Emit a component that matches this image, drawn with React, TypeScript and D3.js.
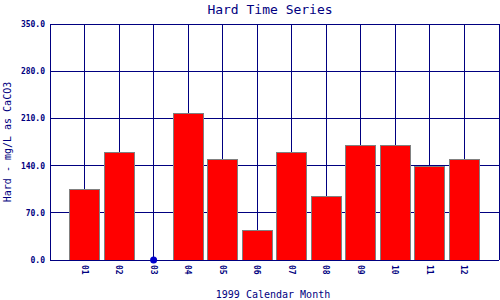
import React from "react";
import * as d3 from "d3";

const months = ["01", "02", "03", "04", "05", "06", "07", "08", "09", "10", "11", "12"];
const hardValues: (number | null)[] = [105, 160, null, 218, 149, 44, 160, 94, 170, 170, 139, 149];
const yTicks = [0, 70, 140, 210, 280, 350];

const W = 500;
const H = 300;
const left = 50;
const right = 499;
const top = 24;
const bottom = 260;
const navy = "#000080";
const mono = "'DejaVu Sans Mono', 'Liberation Mono', monospace";

export default function App() {
  const x = d3.scaleLinear().domain([0, months.length + 1]).range([left, right]);
  const y = d3.scaleLinear().domain([0, 350]).range([bottom, top]);
  const barW = 30;

  return (
    <svg
      width={W}
      height={H}
      style={{ position: "absolute", left: 0, top: 0, background: "#fff" }}
      shapeRendering="crispEdges"
    >
      <rect x={0} y={0} width={W} height={H} fill="#fff" />
      {/* horizontal gridlines */}
      {yTicks.map((t) => (
        <line key={"h" + t} x1={left} x2={right} y1={y(t)} y2={y(t)} stroke={navy} strokeWidth={1} />
      ))}
      {/* vertical gridlines at category centers */}
      {months.map((m, i) => (
        <line key={"v" + m} x1={x(i + 1)} x2={x(i + 1)} y1={top} y2={bottom} stroke={navy} strokeWidth={1} />
      ))}
      {/* frame */}
      <line x1={left} x2={left} y1={top} y2={bottom} stroke={navy} strokeWidth={1} />
      <line x1={right} x2={right} y1={top} y2={bottom} stroke={navy} strokeWidth={1} />
      {/* bars */}
      {hardValues.map((v, i) =>
        v == null ? null : (
          <rect
            key={"b" + i}
            x={x(i + 1) - barW / 2}
            y={y(v)}
            width={barW}
            height={y(0) - y(v)}
            fill="#ff0000"
            stroke="#808080"
            strokeWidth={1}
          />
        )
      )}
      <line x1={left} x2={right} y1={bottom} y2={bottom} stroke={navy} strokeWidth={1} />
      {/* missing value marker */}
      {hardValues.map((v, i) =>
        v == null ? (
          <circle key={"c" + i} cx={x(i + 1)} cy={y(0)} r={3.5} fill="#0000cc" shapeRendering="auto" />
        ) : null
      )}
      {/* y tick labels */}
      {yTicks.map((t) => (
        <text
          key={"yl" + t}
          x={45}
          y={y(t) + 3}
          textAnchor="end"
          fontFamily={mono}
          fontSize={8}
          fontWeight="bold"
          fill={navy}
        >
          {t.toFixed(1)}
        </text>
      ))}
      {/* x tick labels */}
      {months.map((m, i) => (
        <text
          key={"xl" + m}
          transform={`translate(${x(i + 1) - 3},${265}) rotate(90)`}
          textAnchor="start"
          fontFamily={mono}
          fontSize={8}
          fontWeight="bold"
          fill={navy}
        >
          {m}
        </text>
      ))}
      {/* title */}
      <text x={270} y={14} textAnchor="middle" fontFamily={mono} fontSize={13} fill={navy}>
        Hard Time Series
      </text>
      {/* x axis title */}
      <text x={273} y={298} textAnchor="middle" fontFamily={mono} fontSize={10} fill={navy}>
        1999 Calendar Month
      </text>
      {/* y axis title */}
      <text
        transform={`translate(11,${(top + bottom) / 2}) rotate(-90)`}
        textAnchor="middle"
        fontFamily={mono}
        fontSize={10}
        fill={navy}
      >
        Hard - mg/L as CaCO3
      </text>
    </svg>
  );
}
